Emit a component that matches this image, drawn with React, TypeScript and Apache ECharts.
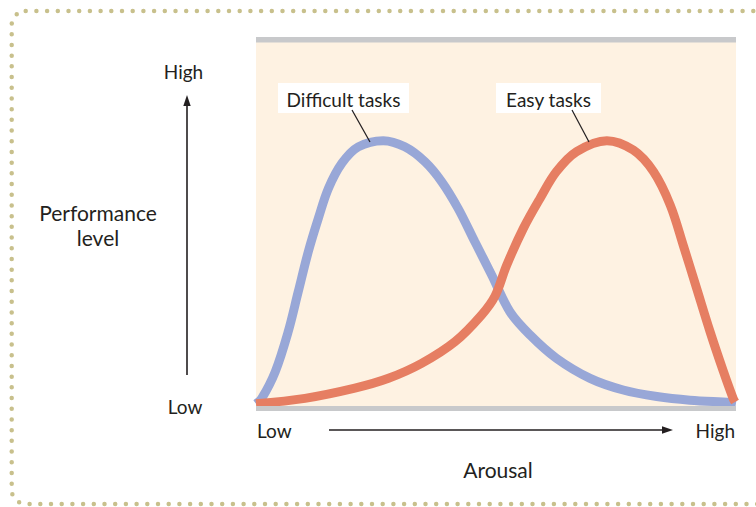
import React, { useEffect, useRef } from "react";
import * as echarts from "echarts";

// Arousal (0-100, low -> high) vs performance level (0-100)
const difficultTasks: [number, number][] = [
  [0, 0.6], [1.2, 2.1], [4.0, 9.4], [6.7, 20.4], [8.8, 31.4], [10.9, 42.4],
  [13.0, 51.6], [15.1, 59.8], [17.9, 66.7], [21.3, 71.2], [26.5, 72.9],
  [31.0, 71.2], [35.2, 67.1], [38.7, 61.6], [42.1, 54.3], [45.6, 45.1],
  [49.1, 36.0], [52.9, 25.9], [57.1, 19.5], [62.6, 13.1],
  [69.6, 7.6], [76.5, 4.4], [83.5, 2.6], [90.4, 1.6], [98.8, 1.0], [100, 0.8],
];
const easyTasks: [number, number][] = [
  [0, 0.6], [10.2, 2.1], [20.6, 4.9], [27.6, 7.6], [34.5, 11.7], [41.5, 17.7],
  [47.0, 25.0], [49.8, 30.2], [52.2, 38.6], [55.7, 48.8], [59.2, 57.1],
  [62.6, 64.4], [66.8, 69.9], [73.1, 72.9], [78.6, 70.3], [82.8, 64.4],
  [86.3, 55.2], [89.0, 44.2], [91.8, 32.3], [94.6, 20.4], [97.4, 9.4],
  [99.4, 2.1], [99.8, 1.1],
];
const seriesNames = ["Difficult tasks", "Easy tasks"];
const yAxisTitle = ["Performance", "level"];
const xAxisTitle = "Arousal";
const lowLabel = "Low";
const highLabel = "High";

const FONT = "Lato, 'Liberation Sans', sans-serif";
const TXT = "#231F20";

export default function App() {
  const ref = useRef<HTMLDivElement>(null);
  useEffect(() => {
    if (!ref.current) return;
    const chart = echarts.init(ref.current, null, { renderer: "svg" });
    const textStyle = (text: string, x: number, y: number, size = 19, align = "left") => ({
      type: "text",
      x,
      y,
      z: 120,
      style: {
        text,
        fill: TXT,
        font: `${size}px ${FONT}`,
        textAlign: align,
        textVerticalAlign: "middle",
      },
    });
    chart.setOption({
      animation: false,
      grid: {
        left: 256,
        right: 20,
        top: 42,
        bottom: 101,
        show: true,
        backgroundColor: "#FEF2E2",
        borderWidth: 0,
      },
      xAxis: { type: "value", min: 0, max: 100, show: false },
      yAxis: { type: "value", min: 0, max: 100, show: false },
      series: [
        {
          name: seriesNames[0],
          type: "line",
          data: difficultTasks,
          smooth: 0.35,
          showSymbol: false,
          symbol: "none",
          lineStyle: { color: "#98A7D7", width: 9 },
          z: 2,
        },
        {
          name: seriesNames[1],
          type: "line",
          data: easyTasks,
          smooth: 0.35,
          showSymbol: false,
          symbol: "none",
          lineStyle: { color: "#E67E62", width: 9 },
          z: 3,
        },
      ],
      graphic: [
        // dotted frame
        {
          type: "rect",
          shape: { x: 11.7, y: 11, width: 760, height: 493, r: 14 },
          z: 0,
          style: {
            fill: "none",
            stroke: "#C8C08C",
            lineWidth: 4.5,
            lineDash: [0, 10.7],
            lineCap: "round",
          },
        },
        // top and bottom gray bars
        { type: "rect", z: 100, shape: { x: 256, y: 37, width: 480, height: 5.5 }, style: { fill: "#C8C9CB" } },
        { type: "rect", z: 100, shape: { x: 256, y: 406, width: 480, height: 5 }, style: { fill: "#C8C9CB" } },
        // label boxes
        { type: "rect", z: 110, shape: { x: 278, y: 83, width: 131, height: 30 }, style: { fill: "#ffffff" } },
        { type: "rect", z: 110, shape: { x: 496, y: 83, width: 105, height: 30 }, style: { fill: "#ffffff" } },
        textStyle(seriesNames[0], 343.5, 99, 19, "center"),
        textStyle(seriesNames[1], 548.5, 99, 19, "center"),
        // leader lines
        { type: "line", z: 110, shape: { x1: 352, y1: 110, x2: 370, y2: 142 }, style: { stroke: TXT, lineWidth: 1.2 } },
        { type: "line", z: 110, shape: { x1: 572, y1: 110, x2: 589, y2: 142 }, style: { stroke: TXT, lineWidth: 1.2 } },
        // y axis arrow
        { type: "line", z: 110, shape: { x1: 187, y1: 375, x2: 187, y2: 104 }, style: { stroke: TXT, lineWidth: 1.6 } },
        { type: "polygon", z: 110, shape: { points: [[187, 95], [183.3, 106], [190.7, 106]] }, style: { fill: TXT } },
        // x axis arrow
        { type: "line", z: 110, shape: { x1: 329, y1: 430, x2: 664, y2: 430 }, style: { stroke: TXT, lineWidth: 1.6 } },
        { type: "polygon", z: 110, shape: { points: [[673, 430], [662, 426.3], [662, 433.7]] }, style: { fill: TXT } },
        // axis end labels
        textStyle(highLabel, 183.5, 71, 19, "center"),
        textStyle(lowLabel, 185, 406, 19, "center"),
        textStyle(lowLabel, 257, 430, 19, "left"),
        textStyle(highLabel, 735, 430, 19, "right"),
        // axis titles
        textStyle(yAxisTitle[0], 98, 212, 21, "center"),
        textStyle(yAxisTitle[1], 98, 237, 21, "center"),
        textStyle(xAxisTitle, 498, 469, 21, "center"),
      ],
    });
    return () => chart.dispose();
  }, []);
  return (
    <div
      ref={ref}
      style={{ position: "absolute", left: 0, top: 0, width: 756, height: 507 }}
    />
  );
}
